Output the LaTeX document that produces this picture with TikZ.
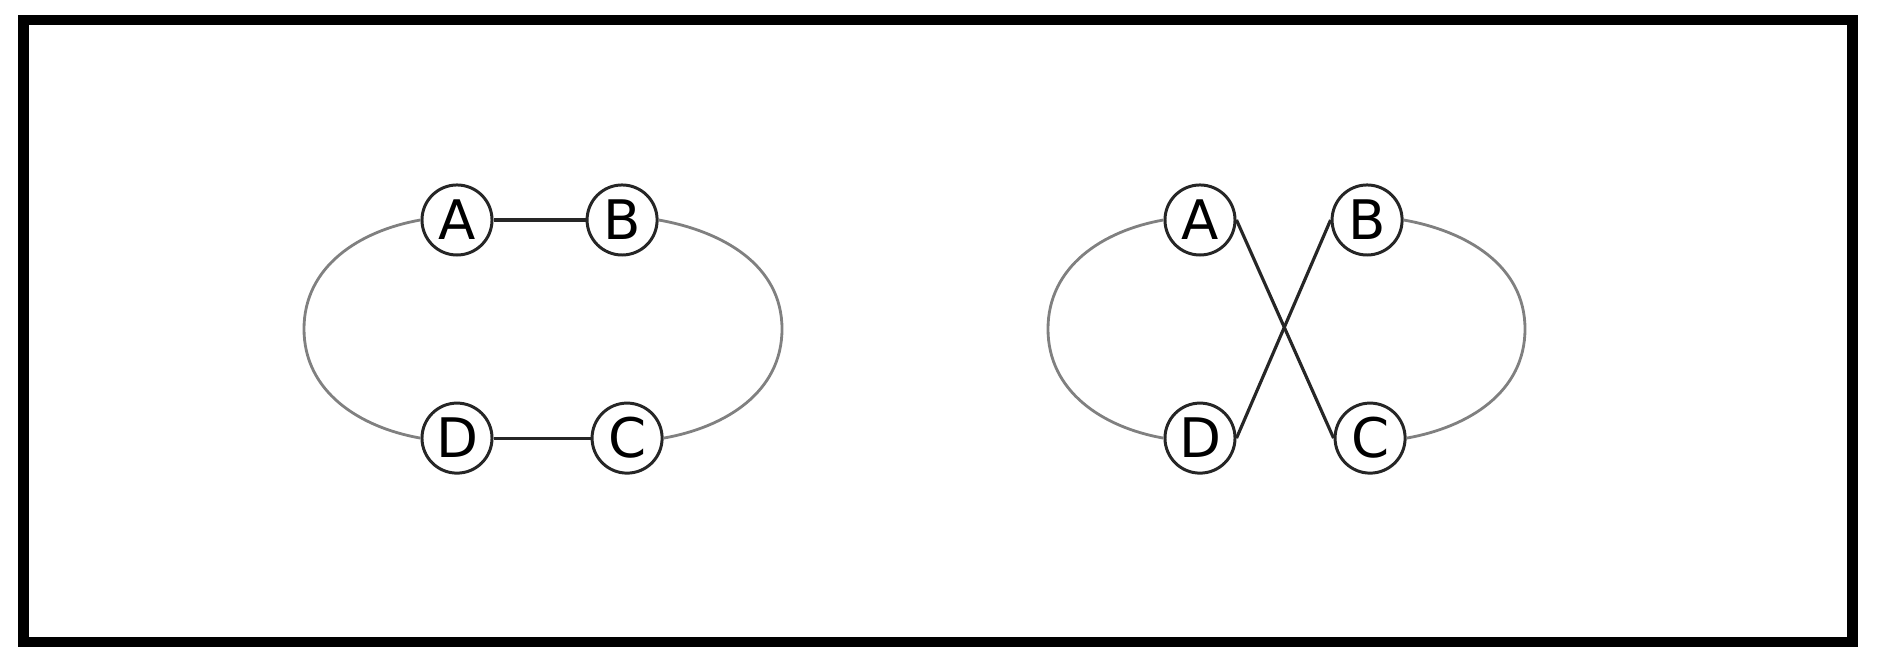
\documentclass[tikz,border=0pt]{standalone}
\usepackage{fontspec}
\setmainfont{DejaVu Sans}
\usepackage{tikz}
\usetikzlibrary{arrows}
\tikzstyle{vertex} = [circle, draw=black!85, line width=0.85pt, minimum size=0.7cm, inner sep=0pt, font=\fontsize{15.5}{18}\selectfont]
\tikzstyle{edge} = [line width=0.9pt, draw=black!85]
\tikzstyle{arcline} = [line width=0.8pt, draw=black!50]
\tikzstyle{frame} = [line width=3.1pt, draw=black]

\begin{document}
\begin{tikzpicture}[x=0.01cm, y=-0.01cm, node distance=2.18cm]
	\useasboundingbox (0,0) rectangle (1878,665);
	\draw [frame] (23.5,20) rectangle (1852.5,642);
	% left ring
	\node (lA) [vertex] at (457,220) {A};
	\node (lB) [vertex, right of=lA, xshift=-0.53cm] {B};
	\node (lD) [vertex, below of=lA] {D};
	\node (lC) [vertex, below of=lB, xshift=0.05cm] {C};
	\coordinate (lW) at (304,329);
	\coordinate (lE) at (782,329);
	\draw [edge] (lA) -- (lB);
	\draw [edge] (lD) -- (lC);
	\draw [arcline] (lA.west) to[out=190, in=90] (lW) to[out=270, in=170] (lD.west);
	\draw [arcline] (lB.east) to[out=350, in=90] (lE) to[out=270, in=10] (lC.east);
	% right ring, crossed
	\node (rA) [vertex] at (1200,220) {A};
	\node (rB) [vertex, right of=rA, xshift=-0.51cm] {B};
	\node (rD) [vertex, below of=rA] {D};
	\node (rC) [vertex, below of=rB, xshift=0.03cm] {C};
	\coordinate (rW) at (1048,329);
	\coordinate (rE) at (1525,329);
	\draw [edge] (rA.east) -- (rC.west);
	\draw [edge] (rB.west) -- (rD.east);
	\draw [arcline] (rA.west) to[out=190, in=90] (rW) to[out=270, in=170] (rD.west);
	\draw [arcline] (rB.east) to[out=350, in=90] (rE) to[out=270, in=10] (rC.east);
\end{tikzpicture}
\end{document}
